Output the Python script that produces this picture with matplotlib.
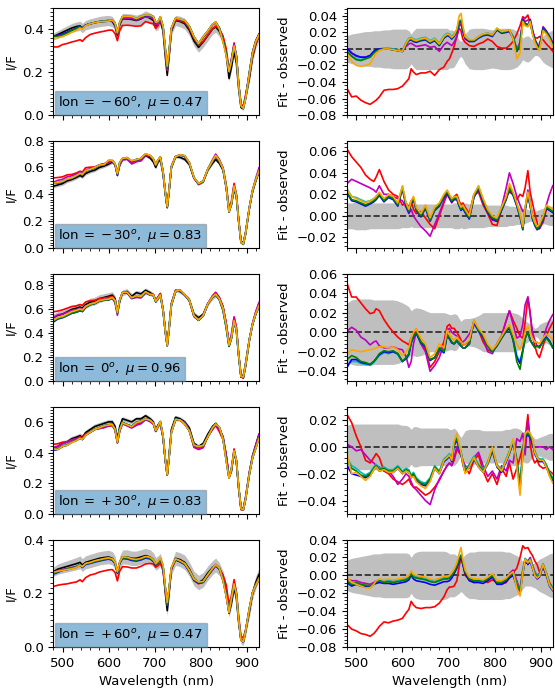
import numpy as np
import matplotlib
matplotlib.use('Agg')
import matplotlib.pyplot as plt
from matplotlib.ticker import MultipleLocator, AutoMinorLocator

# wavelength grid (nm)
wavelength = [480, 490, 500, 510, 520, 530, 538, 543, 550, 560,
              570, 580, 590, 600, 608, 614, 619, 624, 630, 640,
              650, 660, 670, 680, 690, 697, 702, 707, 712, 718,
              723, 727, 731, 736, 745, 755, 765, 775, 785, 795,
              805, 815, 825, 832, 840, 848, 855, 861, 866, 872,
              877, 882, 887, 892, 897, 905, 912, 919, 926]

# observed I/F, one array per longitude
obs_1 = [0.365, 0.375, 0.385, 0.395, 0.405, 0.412, 0.415, 0.405, 0.418, 0.425,
         0.430, 0.435, 0.438, 0.440, 0.435, 0.415, 0.370, 0.420, 0.448, 0.447,
         0.445, 0.440, 0.447, 0.460, 0.450, 0.440, 0.415, 0.420, 0.440, 0.390,
         0.270, 0.185, 0.270, 0.390, 0.440, 0.435, 0.425, 0.395, 0.345, 0.315,
         0.340, 0.370, 0.400, 0.410, 0.390, 0.350, 0.280, 0.170, 0.220, 0.295,
         0.240, 0.120, 0.035, 0.030, 0.080, 0.170, 0.270, 0.330, 0.370]
obs_2 = [0.460, 0.470, 0.480, 0.500, 0.510, 0.525, 0.540, 0.530, 0.555, 0.570,
         0.580, 0.600, 0.610, 0.625, 0.640, 0.620, 0.540, 0.620, 0.660, 0.670,
         0.640, 0.660, 0.660, 0.690, 0.670, 0.640, 0.600, 0.640, 0.660, 0.550,
         0.400, 0.300, 0.420, 0.600, 0.680, 0.675, 0.660, 0.620, 0.520, 0.480,
         0.500, 0.580, 0.630, 0.660, 0.630, 0.580, 0.450, 0.280, 0.320, 0.440,
         0.380, 0.200, 0.050, 0.040, 0.120, 0.300, 0.420, 0.500, 0.570]
obs_3 = [0.530, 0.550, 0.560, 0.580, 0.600, 0.610, 0.620, 0.610, 0.640, 0.660,
         0.670, 0.690, 0.700, 0.710, 0.720, 0.690, 0.580, 0.680, 0.740, 0.750,
         0.710, 0.740, 0.730, 0.760, 0.740, 0.720, 0.670, 0.700, 0.730, 0.600,
         0.420, 0.310, 0.450, 0.650, 0.760, 0.750, 0.720, 0.680, 0.560, 0.530,
         0.560, 0.650, 0.700, 0.720, 0.690, 0.620, 0.480, 0.310, 0.360, 0.500,
         0.430, 0.220, 0.050, 0.045, 0.150, 0.350, 0.480, 0.570, 0.640]
obs_4 = [0.430, 0.440, 0.460, 0.470, 0.490, 0.500, 0.510, 0.500, 0.530, 0.550,
         0.570, 0.580, 0.590, 0.600, 0.600, 0.570, 0.490, 0.570, 0.620, 0.610,
         0.600, 0.620, 0.620, 0.640, 0.620, 0.600, 0.550, 0.580, 0.600, 0.500,
         0.350, 0.260, 0.380, 0.550, 0.630, 0.620, 0.600, 0.560, 0.460, 0.440,
         0.460, 0.520, 0.570, 0.590, 0.560, 0.500, 0.380, 0.240, 0.280, 0.400,
         0.340, 0.170, 0.040, 0.035, 0.110, 0.270, 0.380, 0.450, 0.520]
obs_5 = [0.280, 0.290, 0.295, 0.300, 0.305, 0.310, 0.315, 0.305, 0.315, 0.320,
         0.325, 0.330, 0.333, 0.335, 0.330, 0.315, 0.275, 0.315, 0.335, 0.335,
         0.330, 0.330, 0.335, 0.340, 0.335, 0.325, 0.310, 0.315, 0.325, 0.290,
         0.200, 0.135, 0.200, 0.290, 0.330, 0.325, 0.315, 0.290, 0.255, 0.240,
         0.250, 0.275, 0.295, 0.305, 0.290, 0.260, 0.210, 0.125, 0.160, 0.220,
         0.180, 0.090, 0.025, 0.022, 0.060, 0.130, 0.200, 0.240, 0.270]

# observational uncertainty and fit residuals, in units of 1e-3
err_1 = [16, 18, 19, 20, 21, 21, 22, 22, 22, 23,
         23, 24, 24, 24, 24, 22, 18, 22, 25, 25,
         25, 25, 25, 25, 25, 25, 23, 23, 22, 16,
         11, 9, 12, 18, 24, 25, 25, 25, 24, 23,
         24, 25, 25, 25, 24, 22, 18, 13, 15, 16,
         14, 11, 8, 8, 10, 16, 19, 21, 23]
red_1 = [-48, -58, -57, -62, -65, -67, -64, -62, -58, -50,
         -49, -49, -48, -45, -40, -36, -24, -28, -31, -29,
         -29, -27, -32, -25, -22, -15, -12, -5, 3, 15,
         25, 22, 12, 8, 4, 3, 6, 8, 12, 9,
         3, 1, 1, 4, 9, 18, 28, 39, 37, 41,
         30, 20, 14, 13, 15, 11, 6, 2, -3]
mag_1 = [1, -5, -9, -10, -10, -8, -3, -1, 0, 0,
         0, -1, -2, -3, 3, 6, 7, 5, 3, 4,
         5, 2, 3, -3, 5, 8, 6, 4, 8, 15,
         28, 30, 20, 12, 9, 10, 14, 17, 19, 17,
         24, 20, 22, 22, 15, 0, 8, 38, 33, 35,
         36, 24, 12, 6, 3, 27, 22, 15, 8]
cyan_1 = [-2, -8, -12, -13, -11, -9, -4, -2, 0, 1,
          1, 0, -1, -2, 8, 13, 14, 12, 11, 13,
          14, 10, 13, 7, 16, 19, 18, 15, 18, 23,
          34, 35, 25, 15, 11, 11, 15, 18, 19, 17,
          25, 21, 22, 23, 15, -1, 6, 33, 29, 27,
          33, 19, 9, 3, 0, 23, 19, 13, 4]
blue_1 = [1, -5, -8, -10, -10, -8, -3, -1, 0, 0,
          0, -1, -2, -3, 6, 10, 11, 9, 8, 10,
          11, 7, 10, 4, 13, 16, 15, 12, 15, 21,
          32, 33, 23, 13, 9, 9, 13, 16, 17, 15,
          23, 19, 20, 21, 13, -3, 4, 35, 31, 29,
          35, 21, 11, 5, 2, 25, 21, 15, 6]
green_1 = [-3, -9, -13, -14, -12, -10, -5, -3, -1, 0,
           0, -1, -2, -3, 6, 11, 12, 10, 9, 11,
           12, 8, 11, 5, 14, 17, 16, 13, 16, 22,
           33, 34, 24, 14, 10, 10, 14, 17, 18, 16,
           24, 20, 21, 22, 14, -2, 5, 34, 30, 28,
           34, 20, 10, 4, 1, 24, 20, 14, 5]
orng_1 = [-6, -15, -20, -21, -20, -18, -10, -5, -2, 0,
          0, -1, -2, -3, 7, 12, 13, 11, 10, 12,
          13, 9, 12, 6, 15, 18, 17, 14, 17, 24,
          40, 43, 28, 15, 11, 11, 15, 18, 19, 17,
          25, 21, 22, 23, 12, -12, -5, 33, 28, 27,
          33, 18, 8, 2, -2, 22, 18, 12, 3]

err_2 = [12, 12, 13, 13, 13, 12, 12, 12, 12, 12,
         12, 12, 12, 11, 11, 11, 10, 11, 11, 11,
         11, 11, 11, 11, 11, 11, 11, 11, 12, 12,
         12, 11, 12, 12, 11, 11, 11, 11, 10, 10,
         10, 10, 10, 9, 9, 8, 8, 7, 7, 6,
         5, 5, 4, 5, 6, 7, 8, 9, 9]
red_2 = [62, 55, 50, 45, 38, 34, 32, 36, 43, 32,
         24, 20, 18, 10, 12, 8, 14, 6, 2, 4,
         -2, -8, -12, 0, 12, 20, 18, 14, 18, 20,
         14, 10, 12, 8, 2, 20, 22, 10, 2, -8,
         -9, 6, 18, 22, 20, 15, 20, 18, 26, 42,
         22, 12, 2, -6, -12, -6, 6, 8, 5]
mag_2 = [30, 34, 32, 30, 28, 26, 24, 22, 28, 20,
         20, 18, 16, 14, 8, 2, 6, 0, -4, -10,
         -14, -19, -8, 2, 14, 20, 16, 12, 16, 18,
         12, 8, 10, 6, 0, 18, 24, 12, 4, -4,
         -5, 8, 26, 40, 30, 18, 10, 4, 6, 24,
         14, 0, -6, -10, -12, -4, 10, 20, 28]
cyan_2 = [25, 18, 17, 15, 13, 14, 16, 18, 21, 15,
          19, 17, 11, 27, 11, 5, 13, 17, 7, 1,
          9, -3, 7, 11, 19, 23, 19, 15, 17, 17,
          11, 7, 9, 5, -1, 19, 27, 15, 5, -1,
          -3, 7, 17, 27, 21, 11, 1, -11, 7, 21,
          11, -1, -7, -11, -9, -1, 9, 7, 5]
blue_2 = [21, 14, 13, 11, 9, 11, 13, 15, 19, 13,
          17, 15, 9, 25, 9, 3, 11, 15, 5, -1,
          7, -5, 5, 9, 17, 21, 17, 13, 15, 15,
          9, 5, 7, 3, -3, 17, 25, 13, 3, -3,
          -5, 5, 15, 25, 19, 9, -1, -13, 5, 19,
          9, -3, -9, -13, -11, -3, 7, 5, 3]
green_2 = [22, 15, 14, 12, 10, 12, 14, 16, 20, 14,
           18, 16, 10, 26, 10, 4, 12, 16, 6, 0,
           8, -4, 6, 10, 18, 22, 18, 14, 16, 16,
           10, 6, 8, 4, -2, 18, 26, 14, 4, -2,
           -4, 6, 16, 26, 20, 10, 0, -12, 6, 20,
           10, -2, -8, -12, -10, -2, 8, 6, 4]
orng_2 = [24, 18, 16, 14, 12, 14, 16, 18, 22, 16,
          20, 18, 12, 28, 12, 6, 14, 18, 8, 2,
          10, -2, 8, 12, 20, 24, 20, 16, 18, 18,
          12, 8, 10, 6, 0, 20, 28, 16, 6, 0,
          -2, 8, 18, 30, 22, 12, 2, -10, 8, 22,
          12, 0, -6, -10, -8, 0, 10, 8, 6]

err_3 = [30, 33, 34, 34, 34, 34, 33, 33, 33, 33,
         33, 33, 32, 30, 28, 26, 22, 24, 25, 24,
         22, 20, 20, 20, 20, 19, 18, 18, 19, 18,
         14, 11, 13, 14, 14, 15, 17, 20, 20, 20,
         20, 20, 20, 20, 20, 19, 17, 14, 12, 10,
         8, 6, 4, 5, 8, 10, 11, 13, 14]
red_3 = [50, 36, 36, 30, 24, 19, 20, 24, 22, 13,
         6, 0, -5, -9, -11, -13, -6, -2, 3, -10,
         -18, -36, -30, -20, -10, 6, 8, 4, 4, 0,
         -4, -8, -13, -12, -10, 10, 2, -10, -18, -20,
         -12, -4, 12, 22, 12, 4, -4, -6, 10, 36,
         20, -4, -14, -22, -26, -14, -4, 4, 10]
mag_3 = [1, 5, 2, -5, -8, -13, -10, -9, -14, -16,
         -16, -15, -17, -18, -25, -36, -30, -12, 0, -12,
         -20, -40, -34, -26, -12, 2, 4, 0, -2, -4,
         -8, -12, -10, -8, -2, 8, 2, -6, -20, -22,
         -12, -4, 12, 22, 8, -6, -4, 8, 28, 36,
         18, 0, -8, -14, -16, -8, 4, 12, 18]
cyan_3 = [-33, -30, -30, -32, -33, -34, -31, -28, -24, -21,
          -22, -20, -23, -30, -27, -23, -11, -5, -1, -11,
          -15, -28, -26, -17, -21, -3, -6, -10, -12, -8,
          -12, -14, -16, -16, -12, 11, 1, -5, -14, -20,
          -14, -6, 1, 4, -7, -24, -30, -18, -6, 0,
          -8, -12, -15, -14, -15, -9, -5, -9, -15]
blue_3 = [-36, -28, -28, -31, -32, -33, -30, -27, -23, -20,
          -21, -20, -22, -30, -27, -23, -11, -5, -1, -11,
          -15, -29, -26, -17, -21, -3, -7, -11, -12, -9,
          -12, -14, -16, -16, -12, 11, 1, -5, -14, -20,
          -14, -6, 1, 4, -8, -26, -32, -19, -6, 0,
          -8, -12, -15, -14, -15, -9, -5, -9, -16]
green_3 = [-28, -24, -26, -30, -31, -33, -30, -27, -22, -19,
           -20, -19, -22, -30, -26, -22, -10, -4, 0, -10,
           -14, -28, -26, -16, -20, -2, -6, -10, -12, -8,
           -12, -14, -16, -16, -12, 12, 2, -4, -14, -20,
           -14, -6, 2, 5, -8, -30, -38, -20, -6, 0,
           -8, -12, -16, -14, -16, -10, -6, -10, -16]
orng_3 = [-22, -18, -19, -20, -19, -18, -17, -16, -15, -15,
          -16, -15, -18, -24, -20, -16, -6, 0, 3, -6,
          -12, -26, -22, -12, -16, 2, -2, -6, -8, -5,
          -8, -10, -12, -12, -8, 12, 4, -2, -12, -18,
          -12, -4, 4, 8, -2, -12, -18, -10, 0, 6,
          0, -6, -10, -10, -12, -6, -2, -4, -8]

err_4 = [16, 17, 17, 17, 17, 17, 17, 17, 17, 17,
         17, 17, 17, 16, 16, 15, 13, 15, 15, 14,
         14, 14, 14, 14, 14, 14, 13, 13, 14, 12,
         9, 7, 9, 12, 13, 13, 13, 12, 12, 12,
         12, 12, 13, 13, 14, 14, 13, 11, 12, 12,
         10, 8, 6, 6, 7, 8, 9, 10, 10]
red_4 = [24, 18, 8, 0, -10, -12, -8, -5, -8, -18,
         -20, -24, -26, -28, -26, -24, -28, -30, -30, -33,
         -36, -34, -30, -25, -18, -14, -12, -14, -10, -2,
         -4, -6, -10, -15, -20, -10, -6, -18, -26, -20,
         -28, -16, -22, -12, -24, -16, -8, 0, 6, 24,
         2, -8, -12, -10, -14, -16, -15, -18, -20]
mag_4 = [2, 0, -3, -2, -6, -10, -12, -14, -15, -18,
         -18, -22, -28, -24, -20, -22, -26, -30, -32, -36,
         -40, -43, -32, -24, -18, -14, -12, -14, -8, 0,
         -4, -6, -10, -14, -16, -8, -4, -14, -22, -18,
         -24, -14, -18, -10, -12, 6, 4, 10, -6, 20,
         6, 0, 0, 0, 0, 0, -2, 0, -2]
cyan_4 = [-8, -14, -16, -19, -21, -19, -15, -13, -16, -15,
          -17, -17, -14, -18, -16, -17, -21, -19, -23, -26,
          -27, -23, -14, -18, -9, -7, -5, -9, 3, 7,
          1, -3, -11, -17, -13, -7, -13, -17, -11, -1,
          -13, -17, -9, -3, 5, -9, -28, -3, 9, 11,
          9, 5, -3, -7, -9, -9, -13, -19, -23]
blue_4 = [-14, -20, -21, -22, -23, -21, -17, -15, -18, -17,
          -19, -19, -16, -20, -18, -19, -23, -21, -25, -28,
          -29, -25, -16, -20, -11, -9, -7, -11, 1, 5,
          -1, -5, -13, -19, -15, -9, -15, -19, -13, -3,
          -15, -19, -11, -5, 3, -11, -31, -5, 7, 9,
          7, 3, -5, -9, -11, -11, -15, -21, -25]
green_4 = [-10, -16, -18, -21, -22, -20, -16, -14, -17, -16,
           -18, -18, -15, -19, -17, -18, -22, -20, -24, -27,
           -28, -24, -15, -19, -10, -8, -6, -10, 2, 6,
           0, -4, -12, -18, -14, -8, -14, -18, -12, -2,
           -14, -18, -10, -4, 4, -10, -30, -4, 8, 10,
           8, 4, -4, -8, -10, -10, -14, -20, -24]
orng_4 = [-6, -20, -19, -22, -25, -22, -17, -15, -18, -17,
          -19, -19, -16, -20, -18, -19, -23, -22, -26, -29,
          -31, -26, -16, -20, -10, -8, -6, -10, 4, 10,
          2, -4, -12, -20, -15, -8, -15, -19, -12, 0,
          -14, -18, -10, -4, 6, -14, -36, -6, 10, 12,
          10, 6, -4, -8, -10, -10, -15, -22, -27]

err_5 = [17, 19, 20, 21, 22, 23, 24, 24, 24, 25,
         25, 25, 25, 25, 25, 24, 20, 24, 26, 27,
         27, 27, 27, 27, 27, 26, 24, 24, 24, 22,
         20, 18, 20, 23, 26, 26, 27, 27, 27, 27,
         27, 27, 26, 26, 24, 22, 20, 15, 12, 12,
         12, 13, 14, 16, 18, 20, 22, 24, 25]
red_5 = [-55, -60, -62, -65, -66, -68, -65, -62, -57, -52,
         -53, -51, -50, -48, -42, -38, -29, -33, -36, -37,
         -36, -36, -35, -31, -24, -16, -13, -13, -12, -6,
         10, 20, 14, 0, -5, -8, -6, -5, -8, -5,
         -8, -10, -8, -2, 3, 8, 20, 33, 30, 31,
         26, 22, 16, 12, 4, 8, 2, -8, -14]
mag_5 = [-4, -6, -6, -8, -9, -10, -8, -6, -6, -7,
         -6, -7, -6, -5, -4, -2, 3, -1, -2, -3,
         -4, -6, -7, -5, -3, -4, -3, 0, 3, 9,
         16, 20, 13, 3, -4, -6, -6, -6, -4, 0,
         -8, -8, -5, 2, 6, -6, -16, 6, 18, 16,
         20, 12, 4, 0, 2, 12, 2, -10, -14]
cyan_5 = [-10, -11, -9, -11, -12, -12, -9, -7, -6, -7,
          -6, -7, -6, -5, -4, -2, 3, -1, -2, -3,
          -4, -6, -7, -5, -3, -3, -2, 1, 5, 11,
          19, 23, 15, 5, -3, -5, -5, -6, -3, 1,
          -7, -7, -4, 0, 3, -9, -17, 5, 19, 15,
          18, 11, 3, -1, 1, 13, 3, -9, -14]
blue_5 = [-8, -12, -10, -12, -13, -13, -10, -9, -8, -9,
          -9, -10, -9, -8, -7, -5, 0, -4, -6, -7,
          -8, -10, -11, -9, -7, -7, -6, -3, 2, 8,
          16, 20, 12, 2, -6, -8, -8, -9, -6, -2,
          -10, -10, -7, -3, 0, -12, -20, 2, 16, 12,
          15, 8, 0, -4, -2, 10, 0, -12, -17]
green_5 = [-6, -10, -8, -10, -11, -12, -9, -7, -6, -8,
           -7, -8, -7, -6, -5, -3, 2, -2, -3, -4,
           -5, -7, -8, -6, -4, -4, -3, 0, 4, 10,
           18, 22, 14, 4, -4, -6, -6, -7, -4, 0,
           -8, -8, -5, -1, 2, -10, -18, 4, 18, 14,
           17, 10, 2, -2, 0, 12, 2, -10, -15]
orng_5 = [-2, -8, -10, -12, -14, -14, -10, -6, -4, -5,
          -4, -5, -4, -3, -2, 0, 5, 1, 0, -1,
          -2, -4, -5, -3, -1, -1, 0, 3, 7, 14,
          24, 31, 18, 6, -2, -4, -4, -5, -2, 2,
          -6, -6, -3, 1, 4, -14, -23, 3, 18, 14,
          17, 9, 0, -3, -1, 12, 2, -11, -16]

lon_labels = [r'-\,60', r'-\,30', '0', r'+\,30', r'+\,60']
mu_values = [0.47, 0.83, 0.96, 0.83, 0.47]
model_colors = ['r', 'm', 'c', 'b', 'g', 'orange']

obs_list = [obs_1, obs_2, obs_3, obs_4, obs_5]
err_list = [err_1, err_2, err_3, err_4, err_5]
res_list = [[red_1, mag_1, cyan_1, blue_1, green_1, orng_1],
            [red_2, mag_2, cyan_2, blue_2, green_2, orng_2],
            [red_3, mag_3, cyan_3, blue_3, green_3, orng_3],
            [red_4, mag_4, cyan_4, blue_4, green_4, orng_4],
            [red_5, mag_5, cyan_5, blue_5, green_5, orng_5]]
left_ylims = [(0, 0.5), (0, 0.8), (0, 0.9), (0, 0.7), (0, 0.4)]
right_ylims = [(-0.08, 0.05), (-0.03, 0.07), (-0.05, 0.06), (-0.05, 0.03), (-0.08, 0.04)]

plt.rcParams['font.size'] = 9.5
fig, axes = plt.subplots(5, 2, figsize=(5.55, 6.9), dpi=100)
plt.subplots_adjust(left=0.096, right=0.996, bottom=0.0623, top=0.989,
                    hspace=0.237, wspace=0.428)

wl = np.array(wavelength)
for i in range(5):
    obs = np.array(obs_list[i])
    err = np.array(err_list[i]) / 1000.0
    ax = axes[i, 0]
    axr = axes[i, 1]

    ax.fill_between(wl, obs - err, obs + err, color='grey', alpha=0.5, lw=0)
    ax.plot(wl, obs, 'k', lw=1.2)
    axr.fill_between(wl, -err, err, color='grey', alpha=0.5, lw=0)
    axr.axhline(0, color='k', ls='--', lw=1.2, alpha=0.8)
    for res, c in zip(res_list[i], model_colors):
        res = np.array(res) / 1000.0
        ax.plot(wl, obs + res, color=c, lw=1.2)
        axr.plot(wl, res, color=c, lw=1.2)

    label = r'lon$\:=\:%s^o,\ \mu = %.2f$' % (lon_labels[i], mu_values[i])
    ax.text(0.025, 0.035, label, transform=ax.transAxes, va='bottom', ha='left',
            bbox=dict(facecolor='C0', alpha=0.5, edgecolor='grey', pad=2.5))

    ax.set_ylim(*left_ylims[i])
    axr.set_ylim(*right_ylims[i])
    ax.yaxis.set_major_locator(MultipleLocator(0.2))
    ax.yaxis.set_minor_locator(MultipleLocator(0.02))
    axr.yaxis.set_major_locator(MultipleLocator(0.02))
    axr.yaxis.set_minor_locator(AutoMinorLocator(5))
    ax.set_ylabel('I/F')
    axr.set_ylabel('Fit - observed')
    for a in (ax, axr):
        a.set_xlim(480, 926)
        a.xaxis.set_major_locator(MultipleLocator(100))
        a.xaxis.set_minor_locator(MultipleLocator(20))
        if i < 4:
            a.set_xticklabels([])
        else:
            a.set_xlabel('Wavelength (nm)')

plt.savefig('out.png', dpi=100)
